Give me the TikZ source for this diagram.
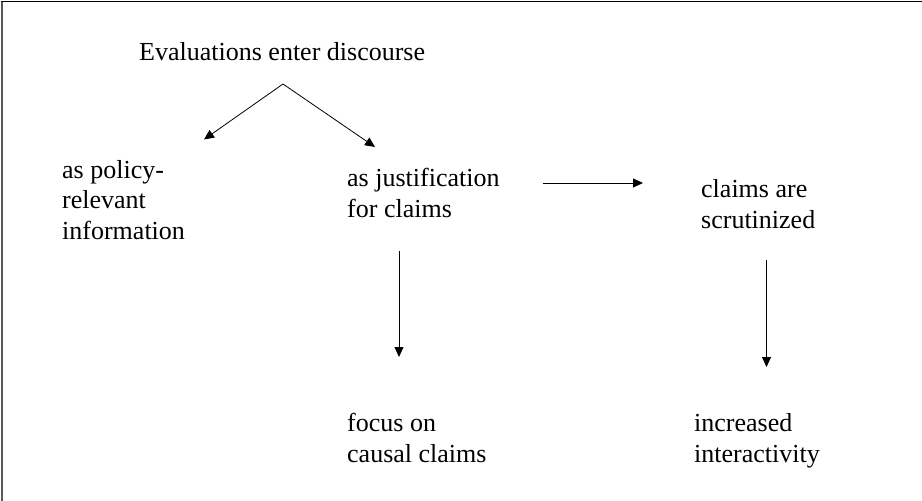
\documentclass[tikz,border=0pt]{standalone}
\usepackage{fontspec}
\setmainfont{Liberation Serif}
\usetikzlibrary{positioning}
\usetikzlibrary{arrows.meta}
\tikzset{
  phrase/.style= {
    anchor = base west,
    align = left,
    inner sep = 0pt,
    font = \fontsize{26}{30.5}\selectfont
  },
  flow/.style= {
    -{Triangle[length=10pt,width=9pt]},
    line width = 0.8pt
  }
}

\begin{document}
\begin{tikzpicture}[x=1pt,y=-1pt]
  \useasboundingbox (0,0) rectangle (922,501);
  \draw[black!65,line width=1.5pt] (2,501) -- (2,1.5);
  \draw[line width=1.2pt] (1.3,1.5) -- (922,1.5);

  % node positions are given by the baseline of the last line
  \node[phrase] (enter) at (139,60) {Evaluations enter discourse};
  \node[phrase] (policy) at (62,239) {as policy-\\relevant\\information};
  \node[phrase] (just) at (347,217) {as justification\\for claims};
  \node[phrase] (scrut) at (701,228) {claims are\\scrutinized};
  \node[phrase] (causal) at (347,462) {focus on\\causal claims};
  \node[phrase] (inter) at (694,462) {increased\\interactivity};

  \coordinate (split) at (283,84);
  \coordinate (policy-in) at (204,139.5);
  \coordinate (just-in) at (375,147);
  \coordinate (just-out) at (543,183);
  \coordinate (scrut-in) at (643,183);
  \coordinate (just-down) at (399,251);
  \coordinate (causal-in) at (399,357);
  \coordinate (scrut-down) at (766.5,260);
  \coordinate (inter-in) at (766.5,367);

  \draw[flow] (split) -- (policy-in);
  \draw[flow] (split) -- (just-in);
  \draw[flow] (just-out) -- (scrut-in);
  \draw[flow] (just-down) -- (causal-in);
  \draw[flow] (scrut-down) -- (inter-in);
\end{tikzpicture}
\end{document}
